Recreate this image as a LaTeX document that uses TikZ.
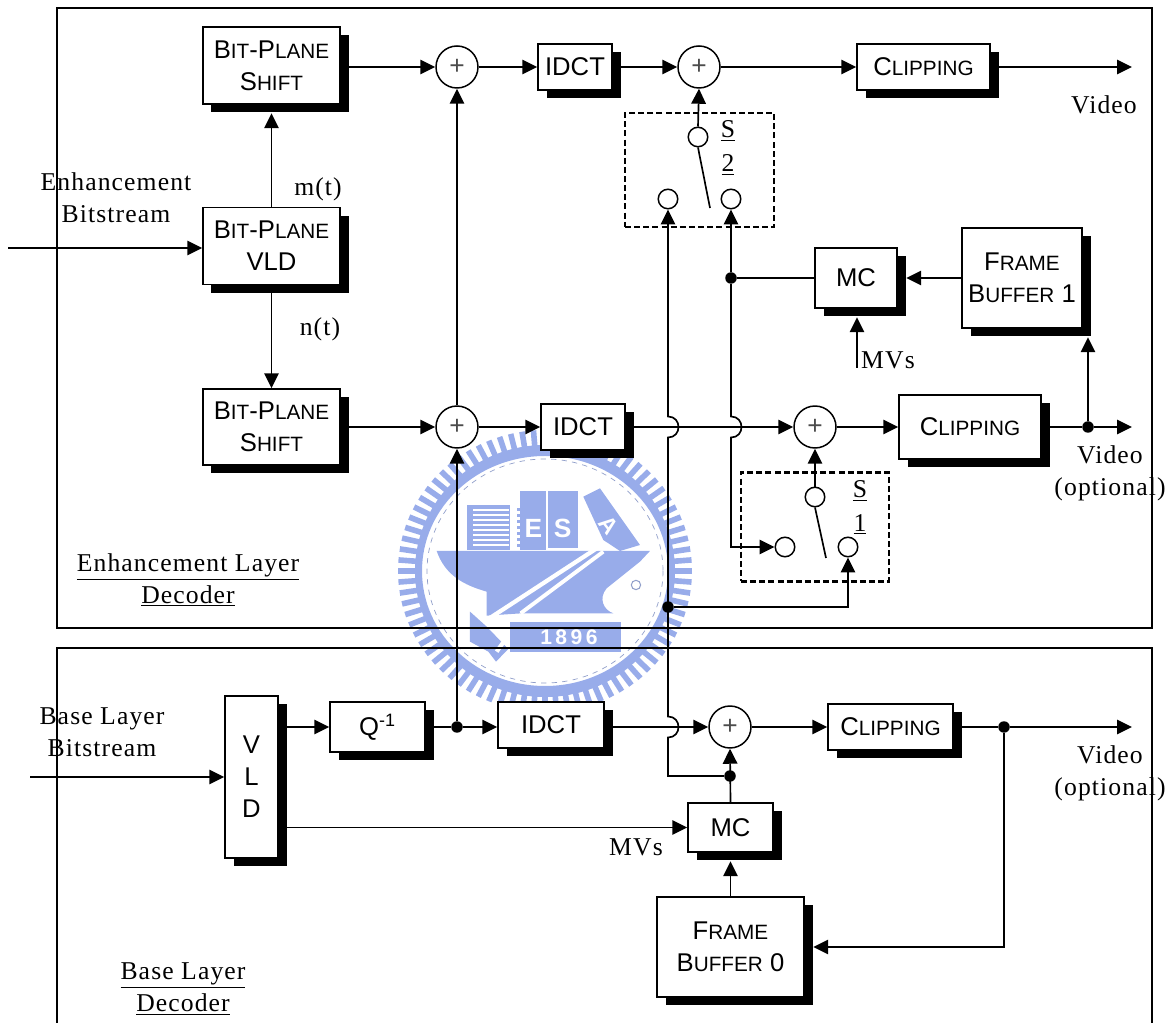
\documentclass[tikz,border=0pt]{standalone}
\usepackage{fontspec}
\setmainfont[LetterSpace=4.3]{Liberation Serif}
\setsansfont{Liberation Sans}
\usetikzlibrary{arrows.meta,shadows}
\definecolor{wmark}{RGB}{152,172,234}
\newcommand{\smc}[1]{{\fontsize{11.8}{18}\selectfont #1}}
\tikzset{
	block/.style 2 args={draw, fill=white, line width=0.85pt, minimum width=#1*0.02cm, minimum height=#2*0.02cm, inner sep=0pt, align=center,
		font=\sffamily\fontsize{14.6}{18.2}\selectfont, drop shadow={fill=black, opacity=1, shadow xshift=0.17cm, shadow yshift=-0.17cm}},
	sum/.style={draw, circle, fill=white, line width=0.85pt, minimum size=0.84cm, inner sep=0pt, font=\sffamily\fontsize{15}{15}\selectfont, text=black!70},
	terminal/.style={draw, circle, fill=white, line width=0.85pt, minimum size=0.39cm, inner sep=0pt},
	junction/.style={circle, fill=black, minimum size=0.23cm, inner sep=0pt},
	switchbox/.style 2 args={draw, dashed, line width=1.4pt, dash pattern=on 3.4pt off 1.8pt, minimum width=#1*0.02cm, minimum height=#2*0.02cm, inner sep=0pt},
	label/.style={align=center, inner sep=0pt, font=\fontsize{14.6}{18.2}\selectfont},
	conn/.style={line width=0.95pt, -{Triangle[length=0.3cm,width=0.29cm]}},
	wire/.style={line width=0.95pt},
	frame/.style={line width=0.85pt},
	wtext/.style={text=white, inner sep=0pt, font=\sffamily\bfseries},
}
\begin{document}
\begin{tikzpicture}[x=0.02cm, y=-0.02cm]
\useasboundingbox (0,0) rectangle (1174,1023);
% watermark behind everything
\foreach \a in {0,4.5,...,355.5}
	\draw[wmark, line width=3.2pt] ({545+124*cos(\a)},{571+119*sin(\a)}) -- ({545+147*cos(\a)},{571+141*sin(\a)});
\fill[wmark, even odd rule] (545,571) circle [x radius=130, y radius=126] (545,571) circle [x radius=123, y radius=115];
\draw[wmark!70!gray, dashed, line width=0.4pt] (545,571) circle [x radius=118, y radius=112];
\begin{scope}[shift={(390,425)}, scale=0.3333]
	\fill[wmark] (140,378) -- (780,378) -- (750,410) -- (700,450) -- (650,490) .. controls (625,520) and (640,555) .. (670,565) -- (395,565) -- (290,572) -- (290,500) .. controls (220,480) and (165,450) .. (140,378) -- cycle;
	\fill[wmark] (230,240) rectangle (360,375);
	\foreach \y in {255,270,...,365}
		\draw[white, line width=1.6pt] (250,\y) -- (356,\y);
	\fill[wmark] (390,198) rectangle (468,375);
	\fill[wmark] (475,198) rectangle (565,368);
	\fill[wmark] (580,215) -- (630,190) -- (750,360) -- (690,378) -- (640,345) -- cycle;
	\draw[wmark, dotted, line width=1.4pt] (385,250) -- (385,372);
	\draw[white, line width=2.4pt] (628,365) -- (283,590);
	\draw[white, line width=2.2pt] (640,380) -- (392,565);
	\fill[white] (635,370) -- (628,355) -- (610,350) -- cycle;
	\fill[wmark] (240,560) -- (290,605) -- (355,672) -- (318,710) -- (295,680) -- (240,650) -- cycle;
	\fill[wmark] (360,592) rectangle (692,680);
	\draw[white, line width=2.4pt] (312,615) -- (345,645) -- (320,680);
	\node[wtext, font=\sffamily\bfseries\fontsize{15}{15}\selectfont] (wmE) at (430,310) {E};
	\node[wtext, font=\sffamily\bfseries\fontsize{15}{15}\selectfont] (wmS) at (518,310) {S};
	\node[wtext, rotate=-52, font=\sffamily\bfseries\fontsize{13}{13}\selectfont] (wmA) at (655,302) {A};
	\node[wtext, font=\sffamily\bfseries\fontsize{12}{12}\selectfont] (wmYear) at (537,636) {1\hspace{2pt}8\hspace{2pt}9\hspace{2pt}6};
	\draw[wmark!70!gray, line width=0.6pt] (738,480) circle [radius=14];
\end{scope}
% frames
\draw[frame] (57,8) rectangle (1152,628);
\draw[frame] (57,1023) -- (57,648) -- (1152,648) -- (1152,1023);
% enhancement layer
\node[block={137}{77}] (shiftA) at (271.5,65.5) {B\smc{IT}-P\smc{LANE}\\S\smc{HIFT}};
\node[block={137}{77}] (vldA) at (271.5,246) {B\smc{IT}-P\smc{LANE}\\VLD};
\node[block={137}{76}] (shiftB) at (271.5,427) {B\smc{IT}-P\smc{LANE}\\S\smc{HIFT}};
\node[sum] (sumA) at (457,67) {+};
\node[sum] (sumB) at (457,427) {+};
\node[block={74}{46}] (idctA) at (575,67) {IDCT};
\node[block={84}{46}] (idctB) at (583,427) {IDCT};
\node[sum] (sumC) at (699,67) {+};
\node[sum] (sumD) at (815,427) {+};
\node[block={133}{46}] (clipA) at (923.5,67) {C\smc{LIPPING}};
\node[block={142}{64}] (clipB) at (970,427) {C\smc{LIPPING}};
\node[block={82}{60}] (mcA) at (856,278) {MC};
\node[block={120}{100}] (bufA) at (1022,278) {F\smc{RAME}\\B\smc{UFFER} 1};
% switches
\node[switchbox={149}{114}] (boxA) at (699.5,170) {};
\node[terminal] (sAc) at (698,137) {};
\node[terminal] (sAl) at (668,199) {};
\node[terminal] (sAr) at (731,199) {};
\node[switchbox={148}{109}] (boxB) at (815,527) {};
\node[terminal] (sBc) at (815,497) {};
\node[terminal] (sBl) at (785,547) {};
\node[terminal] (sBr) at (848,547) {};
\node[label] (sAname) at (728,148) {\underline{S}\\[1.2pt]\underline{2}};
\node[label] (sBname) at (860,507.5) {\underline{S}\\[1.2pt]\underline{1}};
\coordinate (leverA) at (710,208);
\coordinate (leverB) at (826,558);
% base layer
\node[block={53}{162}] (vldB) at (251.5,777) {V\\L\\D};
\node[block={95}{50}] (iq) at (377.5,727) {Q\textsuperscript{-1}};
\node[block={106}{46}] (idctC) at (551,725) {IDCT};
\node[sum] (sumE) at (730,727) {+};
\node[block={125}{46}] (clipC) at (890.5,727) {C\smc{LIPPING}};
\node[block={85}{49}] (mcB) at (730.5,827.5) {MC};
\node[block={147}{100}] (bufB) at (730.5,947) {F\smc{RAME}\\B\smc{UFFER} 0};
% junctions
\node[junction] (jA) at (731,278) {};
\node[junction] (jB) at (1088,427) {};
\node[junction] (jC) at (668,607) {};
\node[junction] (jD) at (457,727) {};
\node[junction] (jE) at (730,776) {};
\node[junction] (jF) at (1004,727) {};
% free ends
\coordinate (inA) at (8,248);
\coordinate (inB) at (30,777);
\coordinate (outA) at (1132,67);
\coordinate (outB) at (1132,427);
\coordinate (outC) at (1132,727);
\coordinate (mvIn) at (857,368);
% texts
\node[label] (enhIn) at (116,198) {Enhancement\\Bitstream};
\node[label] (baseIn) at (102,732) {Base Layer\\Bitstream};
\node[label] (mLab) at (318,189) {m(t)};
\node[label] (nLab) at (320,329) {n(t)};
\node[label] (vidA) at (1104,105) {Video};
\node[label] (vidB) at (1110,473) {Video\\(optional)};
\node[label] (vidC) at (1110,773) {Video\\(optional)};
\node[label] (mvA) at (888,360) {MVs};
\node[label] (mvB) at (636,847) {MVs};
\node[label] (enhName) at (188,580) {\underline{Enhancement Layer}\\\underline{Decoder}};
\node[label] (baseName) at (183,989) {\underline{Base Layer}\\\underline{Decoder}};
% connectors
\draw[conn] (inA) -- (vldA.west |- inA);
\draw[conn, shorten >=0.17cm] (vldA.north) -- (shiftA.south);
\draw[conn] (vldA.south) -- (shiftB.north);
\draw[conn] (shiftA.east |- sumA) -- (sumA.west);
\draw[conn] (shiftB.east) -- (sumB.west);
\draw[conn] (sumB.north) -- (sumA.south);
\draw[conn] (sumA.east) -- (idctA.west);
\draw[conn] (idctA.east) -- (sumC.west);
\draw[conn] (sumC.east) -- (clipA.west);
\draw[conn] (clipA.east) -- (outA);
\draw[conn] (sumB.east) -- (idctB.west);
\draw[conn] (idctB.east) -- (sumD.west);
\draw[conn] (sumD.east) -- (clipB.west);
\draw[wire] (clipB.east) -- (jB);
\draw[conn] (jB) -- (outB);
\draw[conn, shorten >=0.17cm] (jB) -- (jB |- bufA.south);
\draw[conn, shorten >=0.17cm] (bufA.west) -- (mcA.east);
\draw[wire] (mcA.west) -- (jA);
\draw[conn, shorten >=0.17cm] (mvIn) -- (mvIn |- mcA.south);
\draw[conn] (sAc.north) -- (sumC.south);
\draw[conn] (sBc.north) -- (sumD.south);
\draw[wire] (sAc.south) -- (leverA);
\draw[wire] (sBc.south) -- (leverB);
\draw[conn] (jA) -- (sAr.south);
\draw[conn] (jA) -- (731,416.5) .. controls (745,416.5) and (745,437.5) .. (731,437.5) -- (731,547) -- (sBl.west);
\draw[conn] (jE) -- (668,776) -- (668,737.5) .. controls (682,737.5) and (682,716.5) .. (668,716.5) -- (668,437.5) .. controls (682,437.5) and (682,416.5) .. (668,416.5) -- (sAl.south);
\draw[conn] (jC) -- (848,607) -- (sBr.south);
\draw[conn] (inB) -- (vldB.west);
\draw[conn] (vldB.east |- iq) -- (iq.west);
\draw[wire] (iq.east) -- (jD);
\draw[conn] (jD) -- (idctC.west |- jD);
\draw[conn] (jD) -- (sumB.south);
\draw[conn] (idctC.east |- sumE) -- (sumE.west);
\draw[conn] (sumE.east) -- (clipC.west);
\draw[wire] (clipC.east) -- (jF);
\draw[conn] (jF) -- (outC);
\draw[conn, shorten >=0.17cm] (jF) -- (1004,947) -- (bufB.east);
\draw[conn] (vldB.east |- mcB) -- (mcB.west);
\draw[conn] (mcB.north) -- (sumE.south);
\draw[conn, shorten >=0.17cm] (bufB.north) -- (mcB.south);
\end{tikzpicture}
\end{document}
